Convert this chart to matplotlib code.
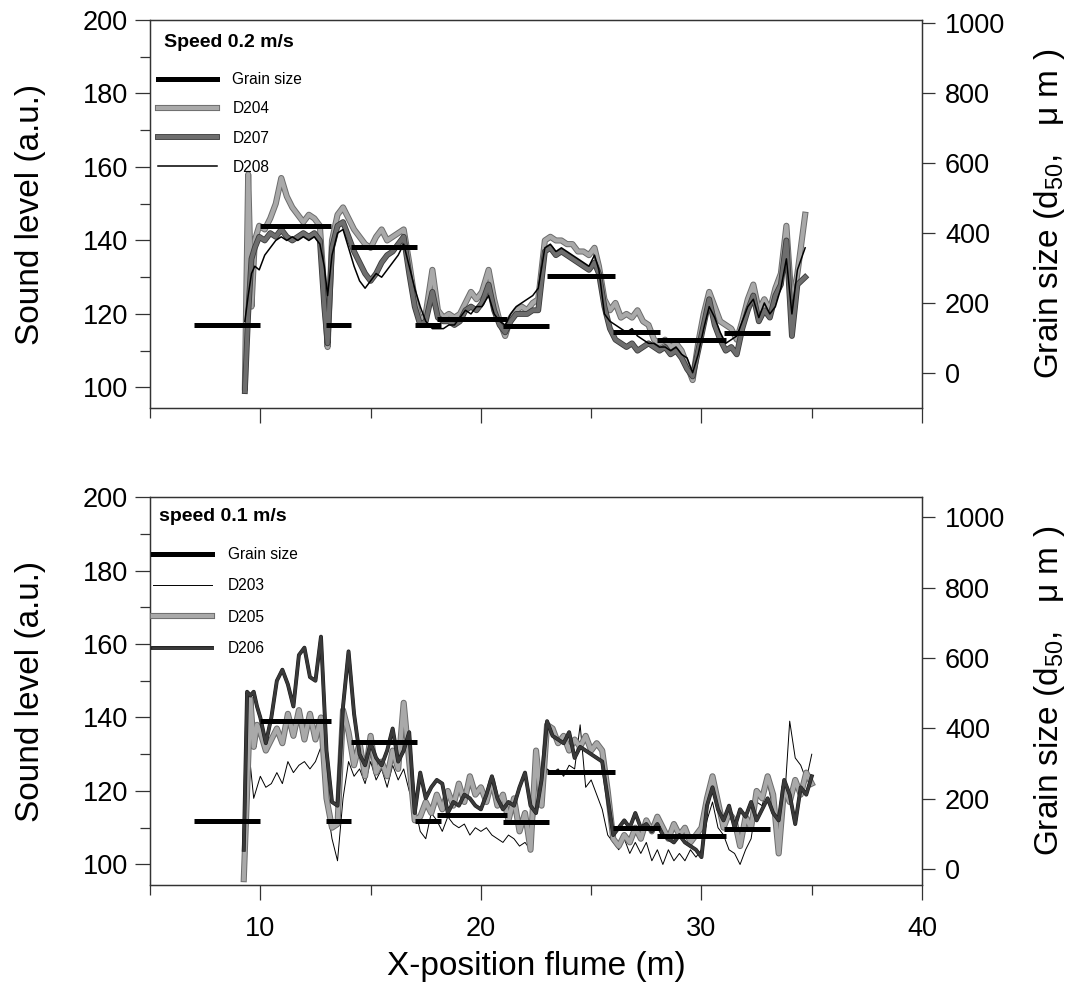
import matplotlib
matplotlib.use("Agg")
import matplotlib.pyplot as plt
import matplotlib.patheffects as pe
from matplotlib.ticker import MultipleLocator

plt.rcParams["font.family"] = ["Liberation Sans", "DejaVu Sans"]
plt.rcParams["mathtext.fontset"] = "custom"
plt.rcParams["mathtext.rm"] = "Liberation Sans"
plt.rcParams["mathtext.it"] = "Liberation Sans:italic"

# --- grain size (d50, um) per bed section, same bed for both runs ---
SEG_START = [7.0, 10.0, 13.0, 14.1, 17.0, 18.0, 21.0, 23.0, 26.0, 28.0, 31.0]
SEG_END = [10.0, 13.2, 14.1, 17.1, 18.2, 21.2, 23.1, 26.1, 28.1, 31.1, 33.1]
GRAIN = [137, 420, 137, 360, 136, 153, 134, 277, 116, 93, 115]

# --- speed 0.2 m/s runs ---
X_TOP = [9.30, 9.45, 9.60, 9.75, 9.95, 10.20, 10.45, 10.70, 10.95, 11.20,
         11.45, 11.70, 11.95, 12.20, 12.45, 12.70, 12.90, 13.05, 13.25, 13.50,
         13.75, 14.00, 14.25, 14.50, 14.75, 15.00, 15.25, 15.50, 15.75, 16.00,
         16.25, 16.50, 16.75, 17.00, 17.25, 17.50, 17.80, 18.05, 18.30, 18.55,
         18.80, 19.05, 19.30, 19.55, 19.80, 20.05, 20.35, 20.60, 20.85, 21.10,
         21.35, 21.60, 21.85, 22.10, 22.35, 22.60, 22.90, 23.15, 23.40, 23.65,
         23.90, 24.15, 24.40, 24.65, 24.90, 25.15, 25.35, 25.60, 25.85, 26.10,
         26.35, 26.60, 26.85, 27.10, 27.35, 27.60, 27.85, 28.10, 28.35, 28.60,
         28.85, 29.10, 29.35, 29.60, 29.85, 30.10, 30.35, 30.60, 30.85, 31.10,
         31.35, 31.60, 31.85, 32.10, 32.35, 32.60, 32.85, 33.10, 33.35, 33.60,
         33.85, 34.10, 34.35, 34.70]
D204 = [100, 158, 122, 140, 144, 143, 146, 150, 157, 152,
        149, 147, 145, 147, 146, 144, 126, 111, 140, 147,
        149, 146, 143, 141, 139, 138, 141, 143, 140, 141,
        142, 143, 134, 124, 118, 120, 132, 121, 119, 120,
        119, 120, 123, 126, 124, 126, 132, 124, 118, 114,
        119, 121, 122, 121, 123, 124, 140, 141, 140, 140,
        139, 139, 137, 137, 136, 138, 133, 124, 121, 123,
        119, 120, 119, 121, 118, 117, 113, 112, 113, 111,
        112, 110, 106, 102, 112, 120, 126, 122, 118, 117,
        116, 113, 118, 124, 128, 121, 124, 121, 127, 131,
        144, 122, 131, 147]
D207 = [99, 120, 135, 138, 141, 140, 142, 141, 143, 141,
        140, 141, 142, 141, 142, 140, 122, 112, 138, 144,
        145, 141, 137, 134, 131, 129, 131, 134, 136, 137,
        139, 141, 131, 122, 117, 118, 126, 119, 118, 118,
        117, 118, 121, 122, 121, 123, 128, 121, 117, 115,
        118, 120, 120, 120, 121, 121, 137, 138, 136, 137,
        136, 135, 134, 133, 132, 134, 131, 122, 116, 113,
        112, 111, 112, 110, 111, 112, 111, 110, 111, 109,
        110, 108, 105, 103, 110, 117, 124, 117, 113, 110,
        111, 109, 116, 121, 125, 118, 121, 119, 125, 128,
        140, 114, 128, 130]
D208 = [118, 125, 131, 133, 132, 136, 138, 140, 141, 140,
        141, 140, 141, 140, 141, 139, 133, 125, 136, 142,
        143, 138, 133, 129, 127, 129, 131, 130, 132, 134,
        136, 139, 133, 127, 122, 118, 116, 116, 116, 117,
        117, 119, 121, 120, 122, 122, 125, 120, 118, 117,
        120, 122, 123, 124, 125, 127, 138, 139, 137, 138,
        137, 136, 135, 134, 133, 136, 132, 120, 118, 117,
        116, 115, 116, 114, 113, 112, 112, 111, 111, 110,
        111, 109, 108, 104, 109, 116, 122, 119, 115, 112,
        113, 114, 118, 122, 124, 119, 123, 120, 122, 127,
        135, 120, 132, 138]

# --- speed 0.1 m/s runs ---
X_BOT = [9.25, 9.40, 9.55, 9.70, 9.85,
         10.00, 10.25, 10.50, 10.75, 11.00, 11.25, 11.50, 11.75, 12.00, 12.25,
         12.50, 12.75, 13.00, 13.25, 13.50, 13.75, 14.00, 14.25, 14.50, 14.75,
         15.00, 15.25, 15.50, 15.75, 16.00, 16.25, 16.50, 16.75, 17.00, 17.25,
         17.50, 17.75, 18.00, 18.25, 18.50, 18.75, 19.00, 19.25, 19.50, 19.75,
         20.00, 20.25, 20.50, 20.75, 21.00, 21.25, 21.50, 21.75, 22.00, 22.25,
         22.50, 22.75, 23.00, 23.25, 23.50, 23.75, 24.00, 24.25, 24.50, 24.75,
         25.00, 25.25, 25.50, 25.75, 26.00, 26.25, 26.50, 26.75, 27.00, 27.25,
         27.50, 27.75, 28.00, 28.25, 28.50, 28.75, 29.00, 29.25, 29.50, 29.75,
         30.00, 30.25, 30.50, 30.75, 31.00, 31.25, 31.50, 31.75, 32.00, 32.25,
         32.50, 32.75, 33.00, 33.25, 33.50, 33.75, 34.00, 34.25, 34.50, 34.75,
         35.00]
D203 = [102, 110, 127, 118, 121,
        124, 121, 122, 125, 122, 128, 125, 127, 128, 126,
        128, 132, 117, 107, 101, 118, 128, 124, 126, 122,
        128, 123, 126, 121, 127, 123, 126, 120, 116, 109,
        107, 114, 112, 109, 113, 111, 110, 111, 108, 110,
        109, 110, 108, 107, 106, 108, 107, 105, 106, 104,
        116, 121, 126, 125, 126, 124, 127, 126, 138, 121,
        123, 119, 115, 108, 106, 104, 107, 103, 106, 103,
        106, 101, 104, 100, 104, 101, 103, 101, 104, 102,
        104, 112, 117, 110, 108, 104, 103, 100, 104, 107,
        117, 116, 122, 115, 104, 116, 139, 129, 127, 123,
        130]
D205 = [96, 120, 145, 132, 138,
        136, 131, 134, 137, 133, 141, 135, 142, 134, 141,
        134, 140, 118, 110, 111, 142, 136, 127, 133, 124,
        135, 125, 128, 124, 131, 126, 144, 128, 112, 113,
        117, 114, 119, 115, 120, 116, 122, 117, 124, 119,
        121, 117, 123, 116, 119, 112, 118, 109, 114, 104,
        131, 116, 138, 137, 133, 135, 131, 134, 132, 135,
        131, 133, 131, 120, 107, 105, 108, 106, 110, 107,
        112, 109, 113, 110, 107, 111, 108, 110, 106, 108,
        110, 118, 124, 117, 110, 114, 112, 105, 113, 110,
        120, 118, 124, 119, 103, 121, 117, 123, 119, 125,
        122]
D206 = [104, 147, 146, 147, 143,
        140, 133, 140, 150, 153, 149, 143, 157, 159, 151,
        150, 162, 131, 117, 116, 143, 158, 141, 130, 127,
        133, 129, 127, 131, 137, 128, 131, 136, 114, 125,
        118, 121, 123, 122, 114, 117, 116, 119, 118, 116,
        115, 119, 124, 118, 115, 117, 116, 121, 125, 116,
        114, 123, 139, 135, 134, 133, 136, 129, 132, 131,
        130, 129, 128, 118, 108, 110, 112, 110, 114, 110,
        111, 109, 111, 108, 107, 106, 108, 106, 105, 104,
        102, 116, 121, 115, 112, 116, 110, 115, 113, 117,
        112, 115, 118, 114, 112, 123, 119, 111, 121, 119,
        124]

LIGHT = dict(color="#a9a9a9", lw=3.0,
             path_effects=[pe.Stroke(linewidth=4.4, foreground="#6c6c6c"), pe.Normal()])
DARK = dict(color="#6e6e6e", lw=3.0,
            path_effects=[pe.Stroke(linewidth=4.2, foreground="#3a3a3a"), pe.Normal()])
DARKEST = dict(color="#3a3a3a", lw=2.0,
               path_effects=[pe.Stroke(linewidth=2.8, foreground="#1a1a1a"), pe.Normal()])
THIN = dict(color="black", lw=1.1)
THINNER = dict(color="black", lw=0.7)

TICK_FS = 19.5
LABEL_FS = 24
SPINE = "#333333"


def style_axes(ax, ax2, show_xlabels):
    ax.set_xlim(5, 40)
    ax.set_ylim(94.4, 200)
    ax.xaxis.set_major_locator(MultipleLocator(10))
    ax.xaxis.set_minor_locator(MultipleLocator(5))
    ax.yaxis.set_major_locator(MultipleLocator(20))
    ax.yaxis.set_minor_locator(MultipleLocator(10))
    ax.tick_params(which="major", direction="out", length=11, width=0.9,
                   labelsize=TICK_FS, pad=5, color=SPINE)
    ax.tick_params(which="minor", direction="out", length=7, width=0.9, color=SPINE)
    ax.tick_params(axis="x", labelbottom=show_xlabels)
    ax2.yaxis.set_major_locator(MultipleLocator(200))
    ax2.tick_params(direction="out", length=9.5, width=0.9, labelsize=TICK_FS,
                    pad=7, color=SPINE)
    for a in (ax, ax2):
        for s in a.spines.values():
            s.set_linewidth(0.9)
            s.set_color(SPINE)
    ax.set_ylabel("Sound level (a.u.)", fontsize=LABEL_FS, labelpad=26)
    ax2.set_ylabel("Grain size (d$_{50}$,   μ m )", fontsize=LABEL_FS, labelpad=19)


def panel(ax, x, runs, grain_lim, title, leg_xy, spacing):
    ax2 = ax.twinx()
    handles = []
    for name, y, kw in runs:
        handles.append(ax.plot(x, y, label=name, **kw)[0])
    ax2.hlines(GRAIN, SEG_START, SEG_END, colors="black", lw=3.6)
    ax2.set_ylim(*grain_lim)
    style_axes(ax, ax2, show_xlabels=False)
    ax.text(leg_xy[0] + 0.008, leg_xy[2], title, transform=ax.transAxes,
            fontsize=14, fontweight="bold", va="center", ha="left")
    proxy = plt.Line2D([], [], color="black", lw=3.6)
    ax2.legend([proxy] + handles, ["Grain size"] + [r[0] for r in runs],
               loc="upper left", bbox_to_anchor=(leg_xy[0], leg_xy[1]),
               frameon=False, fontsize=11.2, handlelength=3.8,
               handletextpad=1.0, labelspacing=spacing, borderpad=0,
               borderaxespad=0)
    return ax2


def main():
    fig = plt.figure(figsize=(10.84, 9.86), dpi=100)
    ax_top = fig.add_axes([0.1384, 0.5862, 0.7122, 0.3935])
    ax_bot = fig.add_axes([0.1384, 0.1024, 0.7122, 0.3935])

    panel(ax_top, X_TOP,
          [("D204", D204, LIGHT), ("D207", D207, DARK), ("D208", D208, THIN)],
          (-100, 1008), "Speed 0.2 m/s", (0.010, 0.866, 0.941), 0.92)
    panel(ax_bot, X_BOT,
          [("D203", D203, THINNER), ("D205", D205, LIGHT), ("D206", D206, DARKEST)],
          (-45, 1057), "speed 0.1 m/s", (0.004, 0.871, 0.951), 1.05)
    ax_bot.tick_params(axis="x", labelbottom=True, pad=11)
    ax_bot.set_xlabel("X-position flume (m)", fontsize=LABEL_FS, labelpad=7)

    fig.savefig("out.png", dpi=100)
    plt.close(fig)


if __name__ == "__main__":
    main()
